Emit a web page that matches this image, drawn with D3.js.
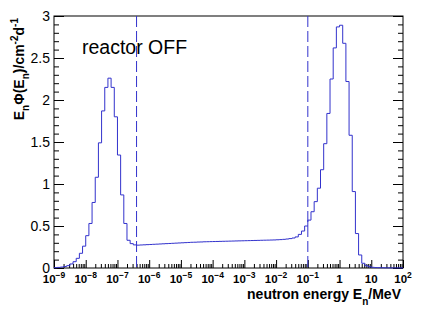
<!DOCTYPE html>
<html>
<head>
<meta charset="utf-8">
<script src="https://cdn.jsdelivr.net/npm/d3@7"></script>
<style>
  body { margin: 0; background: #fff; }
  text { font-family: "Liberation Sans", Arial, sans-serif; }
</style>
</head>
<body>
<svg id="chart" width="436" height="315"></svg>
<script>
// histogram: 110 log bins, 10 per decade, from 1e-9 to 1e2 MeV
const binsPerDecade = 10;
const logMin = -9;
const flux = [
    0.004, 0.007, 0.011, 0.018, 0.028, 0.048, 0.075, 0.115, 0.175, 0.26,
    0.385, 0.53, 0.78, 1.08, 1.49, 1.87, 2.15, 2.26, 2.15, 1.80,
    1.345, 0.87, 0.53, 0.33, 0.29, 0.275, 0.272, 0.274, 0.276, 0.278,
    0.28, 0.282, 0.284, 0.286, 0.288, 0.29, 0.292, 0.294, 0.296, 0.298,
    0.300, 0.302, 0.304, 0.306, 0.307, 0.309, 0.310, 0.312, 0.313, 0.314,
    0.315, 0.316, 0.317, 0.318, 0.319, 0.320, 0.321, 0.322, 0.323, 0.324,
    0.325, 0.326, 0.327, 0.328, 0.329, 0.330, 0.331, 0.332, 0.333, 0.334,
    0.336, 0.338, 0.341, 0.345, 0.350, 0.357, 0.37, 0.40, 0.44, 0.50,
    0.57, 0.67, 0.79, 0.95, 1.17, 1.48, 1.84, 2.25, 2.62, 2.87,
    2.89, 2.675, 2.22, 1.58, 0.91, 0.41, 0.155, 0.056, 0.027, 0.015,
    0.008, 0.005, 0.004, 0.003, 0.002, 0.002, 0.001, 0.001, 0.001, 0.001
];
const cutLines = [4e-7, 0.1];
const decades = d3.range(-9, 3);
const yTicks = [0, 0.5, 1, 1.5, 2, 2.5, 3];

const width = 436;
const height = 315;
const margin = {left: 54, right: 33, top: 16, bottom: 47};
const blue = "#3232cc";

const svg = d3.select("#chart");

const x = d3.scaleLog()
    .domain([1e-9, 1e2])
    .range([margin.left, width - margin.right]);

const y = d3.scaleLinear()
    .domain([0, 3])
    .range([height - margin.bottom, margin.top]);

// minor log ticks 2..9 in every decade
const xMinor = [];
decades.slice(0, -1).forEach(function(p) {
    for (let m = 2; m <= 9; m++) xMinor.push(m * Math.pow(10, p));
});
const xMajor = decades.map(p => Math.pow(10, p));

// frame
svg.append("rect")
    .attr("x", margin.left)
    .attr("y", margin.top)
    .attr("width", width - margin.left - margin.right)
    .attr("height", height - margin.top - margin.bottom)
    .attr("fill", "none")
    .attr("stroke", "#000")
    .attr("stroke-width", 1);

// x axis ticks (inward)
const xAxisMinor = d3.axisBottom(x).tickValues(xMinor).tickSize(-4).tickFormat("");
const xAxisMajor = d3.axisBottom(x).tickValues(xMajor).tickSize(-8).tickFormat("");
[xAxisMinor, xAxisMajor].forEach(function(ax) {
    svg.append("g")
        .attr("transform", `translate(0,${height - margin.bottom})`)
        .call(ax)
        .call(g => g.select(".domain").remove());
});

// y axis ticks, both sides
const yMinor = d3.range(0, 31).map(d => d / 10).filter(d => Math.round(d * 10) % 5 !== 0);
[[d3.axisLeft, margin.left], [d3.axisRight, width - margin.right]].forEach(function(a) {
    svg.append("g")
        .attr("transform", `translate(${a[1]},0)`)
        .call(a[0](y).tickValues(yMinor).tickSize(-5).tickFormat(""))
        .call(g => g.select(".domain").remove());
    svg.append("g")
        .attr("transform", `translate(${a[1]},0)`)
        .call(a[0](y).tickValues(yTicks).tickSize(-10).tickFormat(""))
        .call(g => g.select(".domain").remove());
});

// y tick labels
svg.append("g")
    .selectAll("text")
    .data(yTicks)
    .join("text")
    .attr("x", margin.left - 4)
    .attr("y", d => y(d))
    .attr("dy", "0.36em")
    .attr("text-anchor", "end")
    .attr("font-size", 14)
    .text(d => d);

// x tick labels with superscripts
const xl = svg.append("g")
    .selectAll("text")
    .data(decades)
    .join("text")
    .attr("x", p => x(Math.pow(10, p)))
    .attr("y", height - margin.bottom + 15)
    .attr("text-anchor", "middle")
    .attr("font-size", 11.5)
    .attr("font-weight", "bold");
xl.each(function(p) {
    const t = d3.select(this);
    if (p === 0) { t.text("1"); return; }
    if (p === 1) { t.text("10"); return; }
    t.append("tspan").text("10");
    t.append("tspan").attr("dy", -5).attr("font-size", 8.5).text(p < 0 ? "\u2212" + (-p) : p);
});

// histogram
const pts = flux.map((v, i) => [Math.pow(10, logMin + i / binsPerDecade), v]);
pts.push([Math.pow(10, logMin + flux.length / binsPerDecade), flux[flux.length - 1]]);

const line = d3.line()
    .x(d => x(d[0]))
    .y(d => y(d[1]))
    .curve(d3.curveStepAfter);

svg.append("path")
    .datum(pts)
    .attr("d", line)
    .attr("fill", "none")
    .attr("stroke", blue)
    .attr("stroke-width", 1);

// dashed cut lines
svg.append("g")
    .selectAll("line")
    .data(cutLines)
    .join("line")
    .attr("x1", d => x(d))
    .attr("x2", d => x(d))
    .attr("y1", y(3))
    .attr("y2", y(0))
    .attr("stroke", blue)
    .attr("stroke-width", 1)
    .attr("stroke-dasharray", "11,4");

// axis titles
const xt = svg.append("text")
    .attr("x", width - margin.right - 2)
    .attr("y", 299)
    .attr("text-anchor", "end")
    .attr("font-size", 14)
    .attr("font-weight", "bold");
xt.append("tspan").text("neutron energy E");
xt.append("tspan").attr("dy", 6).attr("font-size", 10).text("n");
xt.append("tspan").attr("dy", -6).text("/MeV");

const yt = svg.append("text")
    .attr("transform", `translate(24,${margin.top + 2}) rotate(-90)`)
    .attr("text-anchor", "end")
    .attr("font-size", 14)
    .attr("font-weight", "bold");
yt.append("tspan").text("E");
yt.append("tspan").attr("dy", 5).attr("font-size", 10).text("n");
yt.append("tspan").attr("dy", -5).text("\u03a6(E");
yt.append("tspan").attr("dy", 5).attr("font-size", 10).text("n");
yt.append("tspan").attr("dy", -5).text(")/cm");
yt.append("tspan").attr("dy", -6).attr("font-size", 10).text("-2");
yt.append("tspan").attr("dy", 6).text("d");
yt.append("tspan").attr("dy", -6).attr("font-size", 10).text("-1");

// label
svg.append("text")
    .attr("x", 82)
    .attr("y", 54)
    .attr("font-size", 19.5)
    .text("reactor OFF");
</script>
</body>
</html>
